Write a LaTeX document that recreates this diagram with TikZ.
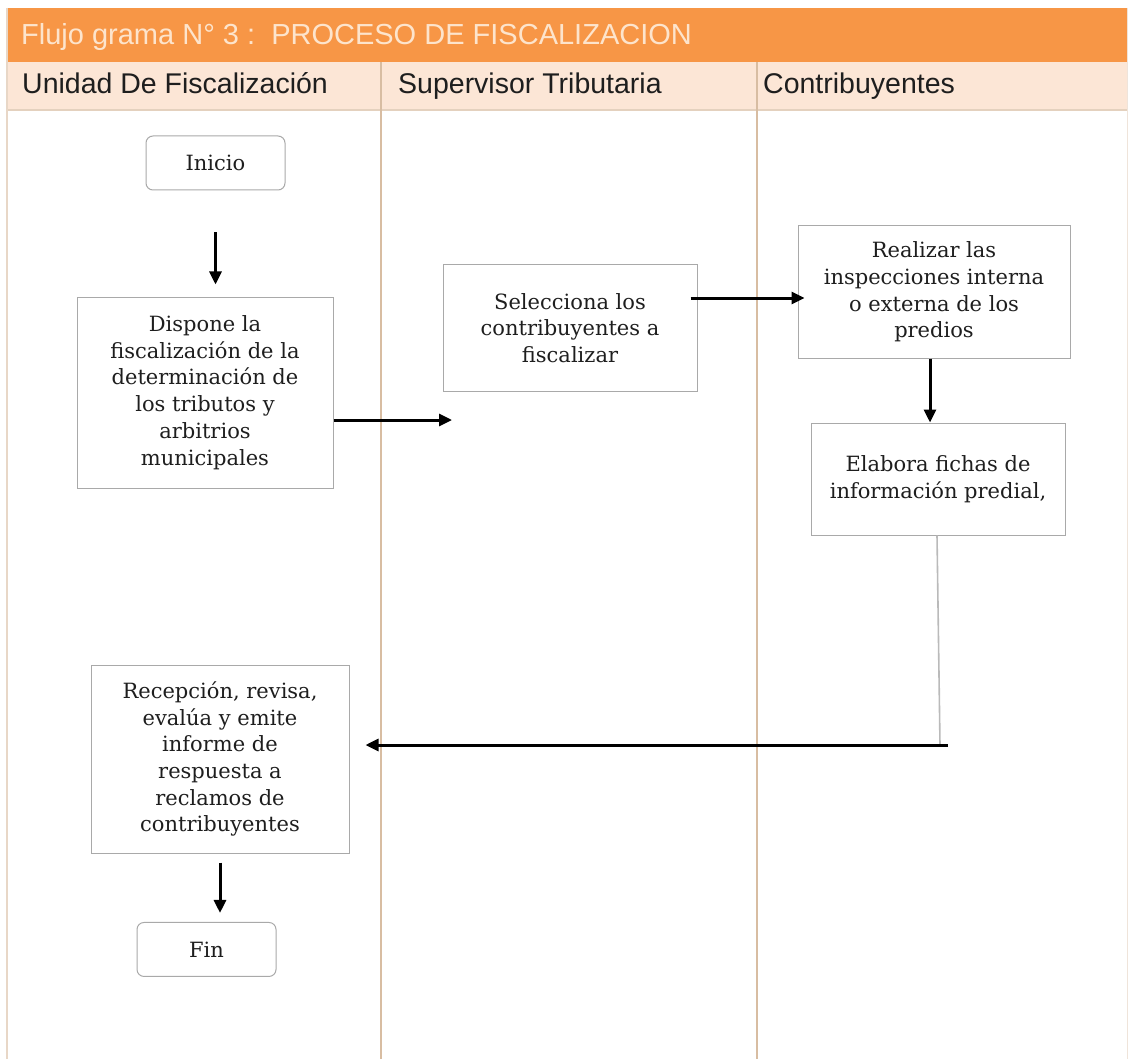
\documentclass[tikz,border=0pt]{standalone}
\usepackage{fontspec}
\setmainfont{DejaVu Serif}
\newfontfamily\headfont{Liberation Sans}
\usetikzlibrary{arrows.meta, positioning, calc}

\definecolor{barorange}{HTML}{F79646}
\definecolor{lanepeach}{HTML}{FCE6D6}
\definecolor{laneline}{HTML}{D8BDA2}
\definecolor{titletext}{HTML}{FDE4CC}
\definecolor{boxgray}{HTML}{A9A9A9}
\definecolor{inkgray}{HTML}{1E1E1E}

\begin{document}
\begin{tikzpicture}[
    x = 1pt, y = -1pt,
    block/.style = {draw=boxgray, line width=1pt, rectangle, align=center, text=inkgray,
                    font=\fontsize{21}{26.7}\selectfont, inner sep=0pt},
    term/.style = {block, rounded corners=7pt, minimum width=139pt, minimum height=54pt},
    lanehead/.style = {anchor=base west, text=inkgray, inner sep=0pt,
                       font=\headfont\fontsize{28.5}{32}\selectfont},
    line/.style = {-{Triangle[length=13pt, width=12pt]}, line width=3pt, black},
    thin/.style = {draw=boxgray!80, line width=1.6pt}
]
    \useasboundingbox (0,0) rectangle (1129,1059);

    % Lanes
    \fill [white] (0,0) rectangle (1129,1059);
    \fill [barorange] (7,8) rectangle (1127,62);
    \fill [lanepeach] (7,62) rectangle (1127,110);
    \draw [laneline!70, line width=1.2pt] (7,110) -- (1127,110);
    \draw [laneline!60, line width=1.2pt] (7,8) -- (7,1059);
    \draw [laneline!40, line width=1pt] (1127,8) -- (1127,1059);
    \foreach \x in {381, 757}
        \draw [laneline, line width=1.4pt] (\x,62) -- (\x,1059);

    \node [anchor=base west, text=titletext, inner sep=0pt,
           font=\headfont\fontsize{29}{32}\selectfont] (title) at (21,45)
          {Flujo grama N° 3 :\ \ PROCESO DE FISCALIZACION};
    \node [lanehead] (laneuf) at (22,94) {Unidad De Fiscalización};
    \node [lanehead] (lanest) at (398,94) {Supervisor Tributaria};
    \node [lanehead] (lanect) at (763,94) {Contribuyentes};

    % Nodes
    \node [term] (inicio) at (215.5,163) {Inicio};
    \node [block, minimum width=256pt, minimum height=191pt] (dispone) at (205,392.5)
          {Dispone la\\fiscalización de la\\determinación de\\los tributos y\\arbitrios\\municipales};
    \node [block, minimum width=254pt, minimum height=126pt] (selecciona) at (570,328)
          {Selecciona los\\contribuyentes a\\fiscalizar};
    \node [block, minimum width=272pt, minimum height=132pt] (realizar) at (934,292)
          {Realizar las\\inspecciones interna\\o externa de los\\predios};
    \node [block, minimum width=254pt, minimum height=112pt] (elabora) at (938,479)
          {Elabora fichas de\\información predial,};
    \node [block, minimum width=258pt, minimum height=188pt] (recepcion) at (220,759)
          {Recepción, revisa,\\evalúa y emite\\informe de\\respuesta a\\reclamos de\\contribuyentes};
    \node [term, below=of recepcion, yshift=-40pt, xshift=-13.5pt] (fin) {Fin};
    \coordinate (selin) at (452,420);
    \coordinate (turn) at (940,745);

    % Edges
    \draw [line, shorten <=42pt, shorten >=12pt] (inicio) -- (inicio |- dispone.north);
    \draw [line] (dispone.east |- selin) -- (selin);
    \draw [line, shorten <=-7pt, shorten >=-7pt] ([yshift=30pt]selecciona.east) -- ([yshift=30pt]selecciona.east -| realizar.west);
    \draw [line] ([xshift=-4pt]realizar.south) -- ([xshift=-4pt]realizar.south |- elabora.north);
    \draw [thin] ([xshift=-1pt]elabora.south) -- (turn);
    \draw [line, shorten >=16pt] ([xshift=8pt]turn) -- (turn -| recepcion.east);
    \draw [line, shorten <=9pt, shorten >=9pt] (recepcion) -- (recepcion |- fin.north);

\end{tikzpicture}
\end{document}
